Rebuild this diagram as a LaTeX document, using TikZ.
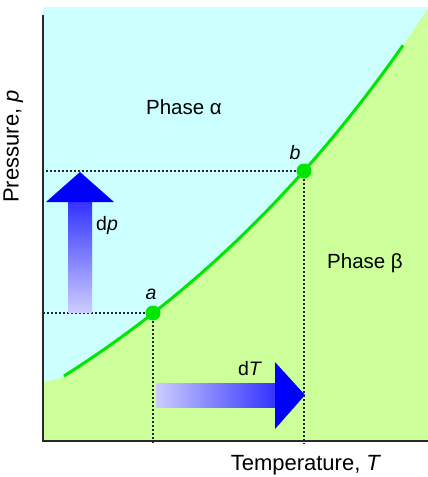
\documentclass[tikz,border=0pt]{standalone}
\usepackage{fontspec}
\setmainfont{Liberation Sans}
\definecolor{phasea}{RGB}{204,255,255}
\definecolor{phaseb}{RGB}{204,255,153}
\definecolor{curvegreen}{RGB}{0,230,0}
\definecolor{arrowlight}{RGB}{204,204,255}
\definecolor{arrowmidtone}{RGB}{128,128,255}
\definecolor{arrowmid}{RGB}{51,51,255}
\definecolor{arrowhead}{RGB}{0,0,255}
\definecolor{axisgray}{RGB}{40,40,40}
\tikzset{
  guide/.style={line width=1.7pt, dash pattern=on 1.7pt off 2.3pt, black!85},
  phaselabel/.style={anchor=base, inner sep=0pt, font=\fontsize{20.5}{24}\selectfont},
  axislabel/.style={anchor=base, inner sep=0pt, font=\fontsize{22}{26}\selectfont},
  smalllabel/.style={anchor=base, inner sep=0pt, font=\fontsize{19.5}{23}\selectfont},
  statedot/.style={circle, fill=curvegreen, inner sep=0pt, minimum size=15pt},
}
\begin{document}
\begin{tikzpicture}[x=1pt,y=-1pt]
\useasboundingbox (0,0) rectangle (428,477);
% regions
\fill[phasea] (43,7) rectangle (428,441);
\fill[phaseb] (43,382) .. controls (50,380.6) and (57,380.4) .. (64,376)
  -- plot[domain=64:428, samples=80] (\x, {640-264*exp(0.0024*(\x-64))})
  -- (428,441) -- (43,441) -- cycle;
% coexistence curve
\draw[curvegreen, line width=3pt] plot[domain=64:403, samples=80] (\x, {640-264*exp(0.0024*(\x-64))});
% states
\coordinate (a) at (153,313);
\coordinate (b) at (304,171);
\coordinate (pa) at (43,313);
\coordinate (pb) at (43,171);
\coordinate (ta) at (153,444);
\coordinate (tb) at (304,444);
\draw[guide] (a) -- (pa);
\draw[guide] (a) -- (ta);
\draw[guide] (b) -- (pb);
\draw[guide] (b) -- (tb);
\node[statedot] (da) at (a) {};
\node[statedot] (db) at (b) {};
% axes
\draw[axisgray, line width=2pt] (43,15) -- (43,441) -- (428,441);
% dp arrow
\shade[bottom color=arrowlight, middle color=arrowmidtone, top color=arrowmid] (68,312) rectangle (92,202);
\fill[arrowhead] (46,202) -- (114,202) -- (80,172) -- cycle;
% dT arrow
\shade[left color=arrowlight, middle color=arrowmidtone, right color=arrowmid] (156,383) rectangle (275,407);
\fill[arrowhead] (275,362) -- (275,429) -- (305,395) -- cycle;
% labels
\node[phaselabel] (alpha) at (184,114) {Phase α};
\node[phaselabel] (beta) at (365,268) {Phase β};
\node[axislabel] (tlab) at (306,470) {Temperature, \textit{T}};
\node[axislabel, rotate=90] (plab) at (18.5,146.5) {Pressure, \textit{p}};
\node[smalllabel] (dp) at (107,230) {d\textit{p}};
\node[smalllabel] (dT) at (250,375) {d\textit{T}};
\node[smalllabel] (alab) at (151,299) {\textit{a}};
\node[smalllabel] (blab) at (295,159) {\textit{b}};
\end{tikzpicture}
\end{document}
